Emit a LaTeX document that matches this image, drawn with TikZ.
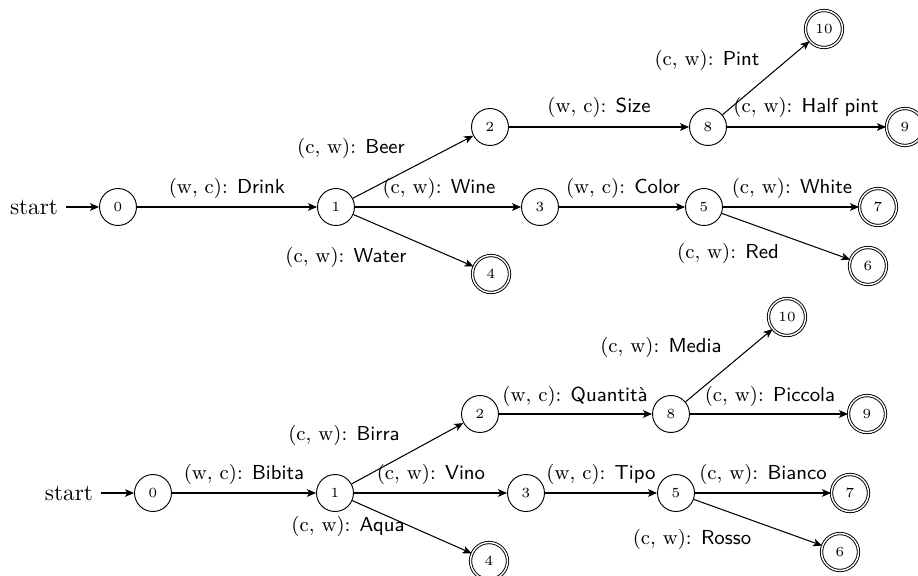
\documentclass[tikz,border=0pt]{standalone}
\usetikzlibrary{arrows.meta}
\begin{document}
\begin{tikzpicture}[x=0.43pt,y=-0.43pt,
  state/.style={circle, draw, line width=0.4pt, minimum size=15.9pt, inner sep=0pt, font=\fontsize{6}{7}\selectfont},
  acc/.style={state, double, double distance=0.6pt},
  lbl/.style={font=\fontsize{8.7}{10}\selectfont, inner sep=0pt},
  starttxt/.style={font=\normalsize, inner sep=3.33pt},
  edge/.style={-{Stealth[length=3.9pt,width=3.3pt,inset=1pt]}, line width=0.45pt}]
\useasboundingbox (0,0) rectangle (918,576);

% ---------- top automaton ----------
\node[starttxt] (s1) at (34,207) {start};
\node[state] (a0) at (118,207) {0};
\node[state] (a1) at (336,207) {1};
\node[state] (a2) at (490,127) {2};
\node[state] (a8) at (708,127) {8};
\node[acc]   (a10) at (824,29) {10};
\node[acc]   (a9) at (905,127) {9};
\node[state] (a3) at (540,207) {3};
\node[state] (a5) at (704,207) {5};
\node[acc]   (a7) at (878,207) {7};
\node[acc]   (a6) at (868,266) {6};
\node[acc]   (a4) at (491,274) {4};

\draw[edge] (s1) -- (a0);
\draw[edge] (a0) -- (a1);
\draw[edge] (a1) -- (a2);
\draw[edge] (a1) -- (a3);
\draw[edge] (a1) -- (a4);
\draw[edge] (a2) -- (a8);
\draw[edge] (a8) -- (a10);
\draw[edge] (a8) -- (a9);
\draw[edge] (a3) -- (a5);
\draw[edge] (a5) -- (a7);
\draw[edge] (a5) -- (a6);

\node[lbl] (ta01) at (227,188) {(w, c): \textsf{Drink}};
\node[lbl] (ta12) at (351,148) {(c, w): \textsf{Beer}};
\node[lbl] (ta13) at (439,188) {(c, w): \textsf{Wine}};
\node[lbl] (ta14) at (346,257) {(c, w): \textsf{Water}};
\node[lbl] (ta28) at (599,107) {(w, c): \textsf{Size}};
\node[lbl] (ta810) at (707,60) {(c, w): \textsf{Pint}};
\node[lbl] (ta89) at (806,107) {(c, w): \textsf{Half pint}};
\node[lbl] (ta35) at (623,188) {(w, c): \textsf{Color}};
\node[lbl] (ta57) at (792,188) {(c, w): \textsf{White}};
\node[lbl] (ta56) at (728,253) {(c, w): \textsf{Red}};

% ---------- bottom automaton ----------
\node[starttxt] (s2) at (69,493) {start};
\node[state] (b0) at (153,493) {0};
\node[state] (b1) at (335,493) {1};
\node[state] (b2) at (480,414) {2};
\node[state] (b8) at (671,414) {8};
\node[acc]   (b10) at (787,317) {10};
\node[acc]   (b9) at (867,414) {9};
\node[state] (b3) at (526,493) {3};
\node[state] (b5) at (676,493) {5};
\node[acc]   (b7) at (850,493) {7};
\node[acc]   (b6) at (840,552) {6};
\node[acc]   (b4) at (489,561) {4};

\draw[edge] (s2) -- (b0);
\draw[edge] (b0) -- (b1);
\draw[edge] (b1) -- (b2);
\draw[edge] (b1) -- (b3);
\draw[edge] (b1) -- (b4);
\draw[edge] (b2) -- (b8);
\draw[edge] (b8) -- (b10);
\draw[edge] (b8) -- (b9);
\draw[edge] (b3) -- (b5);
\draw[edge] (b5) -- (b7);
\draw[edge] (b5) -- (b6);

\node[lbl] (tb01) at (244,474) {(w, c): \textsf{Bibita}};
\node[lbl] (tb12) at (344,435) {(c, w): \textsf{Birra}};
\node[lbl] (tb13) at (431,474) {(c, w): \textsf{Vino}};
\node[lbl] (tb14) at (348,526) {(c, w): \textsf{Aqua}};
\node[lbl] (tb28) at (575,396) {(w, c): \textsf{Quantità}};
\node[lbl] (tb810) at (661,347) {(c, w): \textsf{Media}};
\node[lbl] (tb89) at (770,396) {(c, w): \textsf{Piccola}};
\node[lbl] (tb35) at (601,474) {(w, c): \textsf{Tipo}};
\node[lbl] (tb57) at (763,474) {(c, w): \textsf{Bianco}};
\node[lbl] (tb56) at (692,539) {(c, w): \textsf{Rosso}};
\end{tikzpicture}
\end{document}
